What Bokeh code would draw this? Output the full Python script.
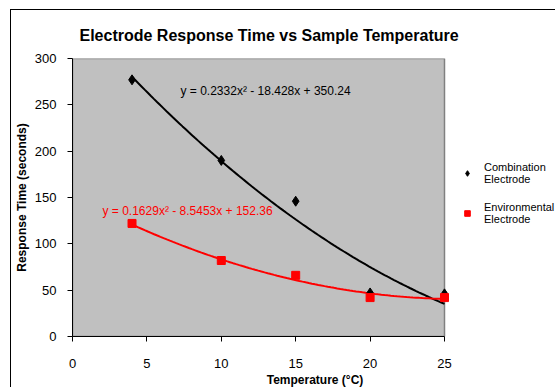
import numpy as np
from bokeh.plotting import figure
from bokeh.models import Range1d, Label, Legend, LegendItem, FixedTicker, InlineStyleSheet
from bokeh.embed import file_html
from bokeh.resources import INLINE

# Data
temperature = [4, 10, 15, 20, 25]
combination = [277, 190, 146, 47, 46]
environmental = [122, 82, 66, 42, 42]

# Trendline coefficients (as shown on chart): a*x^2 + b*x + c
comb_coef = [0.2332, -18.428, 350.24]
env_coef = [0.1629, -8.5453, 152.36]
comb_eq = "y = 0.2332x² - 18.428x + 350.24"
env_eq = "y = 0.1629x² - 8.5453x + 152.36"

x_ticks = [0, 5, 10, 15, 20, 25]
y_ticks = [0, 50, 100, 150, 200, 250, 300]

FONT = "Liberation Sans"

# Layout (pixels)
BL, BT, BB = 60, 47, 52
AREA_W = 372            # width of the grey plot area
FRAME_W = 485           # frame runs to the right edge so the legend is not clipped
FRAME_H = 278
x_end = x_ticks[-1] * FRAME_W / AREA_W

p = figure(frame_width=FRAME_W, frame_height=FRAME_H, output_backend="svg", toolbar_location=None,
           x_range=Range1d(x_ticks[0], x_end), y_range=Range1d(y_ticks[0], y_ticks[-1]),
           min_border_left=BL, min_border_right=0, min_border_top=BT, min_border_bottom=BB,
           margin=(9, 0, 0, 10))
p.stylesheets = [InlineStyleSheet(css=":host { border-left: 1.5px solid black; border-top: 1.5px solid black; }")]

p.title.text = "Electrode Response Time vs Sample Temperature"
p.title.text_font = FONT
p.title.text_font_size = "16px"
p.title.text_font_style = "bold"
p.title.text_color = "black"
p.title.align = "left"
p.title.offset = 7
p.title.standoff = 29

p.background_fill_color = "white"
p.border_fill_color = "white"
p.outline_line_color = None
p.grid.visible = False

# grey plot area bounded by the axes' ranges
p.quad(left=x_ticks[0], right=x_ticks[-1], bottom=y_ticks[0], top=y_ticks[-1],
       fill_color="#C0C0C0", line_color="#808080", line_width=1.5)

for ax in (p.xaxis[0], p.yaxis[0]):
    ax.axis_line_color = "black"
    ax.major_tick_line_color = "black"
    ax.minor_tick_line_color = None
    ax.major_tick_in = 0
    ax.major_tick_out = 5
    ax.major_label_text_font = FONT
    ax.major_label_text_font_size = "13px"
    ax.major_label_text_color = "black"
    ax.axis_label_text_font = FONT
    ax.axis_label_text_font_size = "12px"
    ax.axis_label_text_font_style = "bold"
    ax.axis_label_text_color = "black"

p.xaxis.bounds = (x_ticks[0], x_ticks[-1])
p.xaxis.ticker = FixedTicker(ticks=x_ticks)
p.yaxis.ticker = FixedTicker(ticks=y_ticks)
p.xaxis.major_label_standoff = 17
p.yaxis.major_label_standoff = 11
p.xaxis.axis_label = "Temperature (°C)"
p.yaxis.axis_label = "Response Time (seconds)"
p.xaxis.axis_label_standoff = 2
p.yaxis.axis_label_standoff = 3

xs = np.linspace(min(temperature), max(temperature), 100)
comb_fit = np.polyval(comb_coef, xs)
env_fit = np.polyval(env_coef, xs)

p.line(xs, comb_fit, line_color="black", line_width=2)
p.line(xs, env_fit, line_color="red", line_width=2)

r1 = p.scatter(temperature, combination, marker="diamond", size=10, color="black")
r2 = p.scatter(temperature, environmental, marker="square", size=8, color="red")

p.add_layout(Label(x=108, y=246, x_units="screen", y_units="screen", text=comb_eq,
                   text_font=FONT, text_font_size="12px", text_color="black",
                   text_baseline="middle"))
p.add_layout(Label(x=30, y=126, x_units="screen", y_units="screen", text=env_eq,
                   text_font=FONT, text_font_size="12px", text_color="red",
                   text_baseline="middle"))

legend = Legend(items=[LegendItem(label="Combination\nElectrode", renderers=[r1]),
                       LegendItem(label="Environmental\nElectrode", renderers=[r2])],
                location=(387, 111), border_line_color=None, background_fill_alpha=0,
                label_text_font=FONT, label_text_font_size="11px", label_text_color="black",
                label_text_line_height=1.35,
                glyph_width=16, glyph_height=14, spacing=16, padding=0, margin=0,
                label_standoff=9)
p.add_layout(legend, "center")

open("out.html", "w").write(file_html(p, INLINE))
